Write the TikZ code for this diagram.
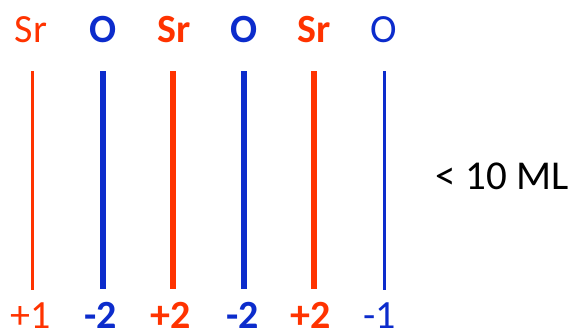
\documentclass[tikz,border=0pt]{standalone}
\usepackage{fontspec}
\setmainfont{Carlito}
\definecolor{srred}{RGB}{255,51,0}
\definecolor{oblue}{RGB}{12,44,204}
\begin{document}
\begin{tikzpicture}[x=1pt,y=-1pt,
  lab/.style={anchor=base,inner sep=0pt,font=\fontsize{40}{48}\selectfont},
  blab/.style={anchor=base,inner sep=0pt,font=\fontsize{40}{48}\selectfont\bfseries},
  thinline/.style={line width=3pt},
  thickline/.style={line width=5.5pt}]
\useasboundingbox (0,0) rectangle (574,333);
% top labels
\node[lab,text=srred] (t1) at (31,42) {Sr};
\node[blab,text=oblue] (t2) at (103,42) {O};
\node[blab,text=srred] (t3) at (174,42) {Sr};
\node[blab,text=oblue] (t4) at (244,42) {O};
\node[blab,text=srred] (t5) at (314,42) {Sr};
\node[lab,text=oblue] (t6) at (384,42) {O};
% line end points
\coordinate (a1) at (32.5,71); \coordinate (b1) at (32.5,290);
\coordinate (a2) at (103,71);  \coordinate (b2) at (103,289);
\coordinate (a3) at (173,71);  \coordinate (b3) at (173,289);
\coordinate (a4) at (244,71);  \coordinate (b4) at (244,289);
\coordinate (a5) at (314,71);  \coordinate (b5) at (314,289);
\coordinate (a6) at (384,71);  \coordinate (b6) at (384,290);
\draw[thinline,srred] (a1) -- (b1);
\draw[thickline,oblue] (a2) -- (b2);
\draw[thickline,srred] (a3) -- (b3);
\draw[thickline,oblue] (a4) -- (b4);
\draw[thickline,srred] (a5) -- (b5);
\draw[thinline,oblue] (a6) -- (b6);
% bottom labels
\node[lab,text=srred] (c1) at (31,328) {+1};
\node[blab,text=oblue] (c2) at (101,328) {-2};
\node[blab,text=srred] (c3) at (171,328) {+2};
\node[blab,text=oblue] (c4) at (242.5,328) {-2};
\node[blab,text=srred] (c5) at (311,328) {+2};
\node[lab,text=oblue] (c6) at (380,328) {-1};
% right label
\node[anchor=base,inner sep=0pt,font=\fontsize{41}{50}\selectfont,text=black] (ml) at (502,189) {< 10 ML};
\end{tikzpicture}
\end{document}
